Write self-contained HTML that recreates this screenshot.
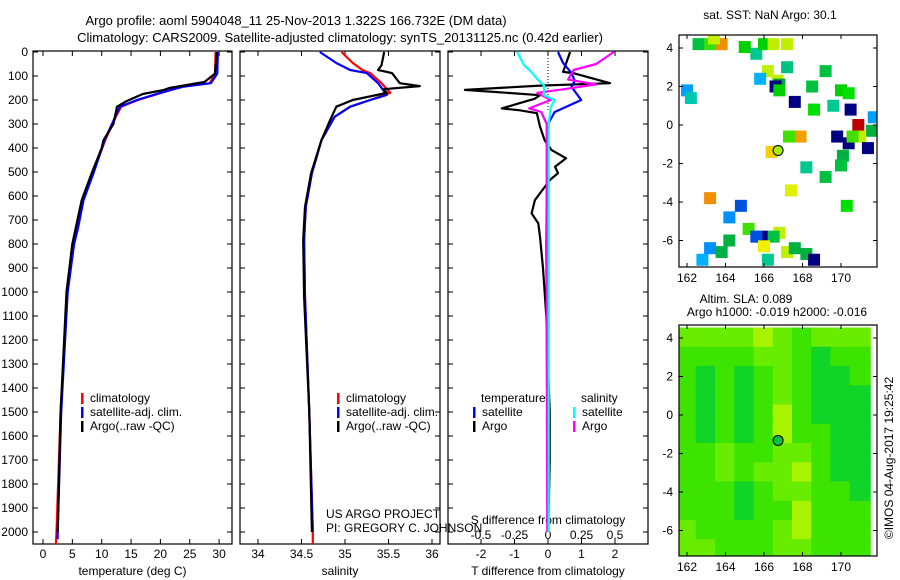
<!DOCTYPE html>
<html><head><meta charset="utf-8">
<style>
body{margin:0;background:#fff;}
svg{display:block;font-family:"Liberation Sans",sans-serif;}
text{font-size:12px;fill:#000;}
</style></head>
<body>
<svg id="fig" width="900" height="580" xmlns="http://www.w3.org/2000/svg">
<text x="296" y="25" text-anchor="middle" style="font-size:13px">Argo profile: aoml 5904048_11 25-Nov-2013 1.322S 166.732E (DM data)</text>
<text x="340" y="42" text-anchor="middle" style="font-size:13px">Climatology: CARS2009. Satellite-adjusted climatology: synTS_20131125.nc (0.42d earlier)</text>
</svg>
<script>
// ---------- data ----------
const depthTicks=[0,100,200,300,400,500,600,700,800,900,1000,1100,1200,1300,1400,1500,1600,1700,1800,1900,2000];
const tempTicks=[0,5,10,15,20,25,30];
const salTicks=[34,34.5,35,35.5,36];
const tdTicks=[-2,-1,0,1,2];
const sdTicks=[-0.5,-0.25,0,0.25,0.5];
const tempClimDepth=[0,90,130,145,170,200,228,270,367,505,617,730,800,1000,1500,2000,2050];
const tempClim=[29.4,29.3,28.4,23.5,20.2,16.2,13.3,12.4,10.6,8.5,6.9,5.9,5.2,4.1,3.0,2.3,2.2];
const tempSatDepth=[0,90,130,145,170,200,228,270,367,505,617,730,800,1000,1500,2000,2030];
const tempSat=[29.8,29.7,28.6,23.8,20.0,16.0,13.1,12.3,10.5,8.6,6.9,6.0,5.3,4.2,3.1,2.5,2.5];
const tempArgoDepth=[0,90,125,150,158,175,205,228,300,367,400,505,617,730,800,1000,1500,1900,2000];
const tempArgo=[29.6,29.3,27.5,21.5,20.6,17,14.2,12.6,12.0,10.3,10.0,8.3,6.6,5.6,5.0,4.0,3.0,2.6,2.5];
const salClimDepth=[0,46,75,88,130,170,200,228,270,367,505,645,783,1020,1500,2000,2050];
const salClim=[34.96,35.09,35.2,35.29,35.42,35.52,35.29,35.06,34.88,34.73,34.62,34.55,34.53,34.54,34.59,34.63,34.63];
const salSatDepth=[0,46,75,88,130,179,200,228,270,367,505,645,783,1020,1500,2000];
const salSat=[34.71,34.9,35.06,35.25,35.38,35.48,35.29,35.06,34.88,34.73,34.62,34.55,34.53,34.54,34.59,34.63];
const salArgoDepth=[0,55,75,88,130,142,155,170,200,228,283,367,505,645,783,1020,1500,2000];
const salArgo=[35.45,35.42,35.38,35.54,35.63,35.86,35.44,35.48,35.09,34.9,34.83,34.73,34.61,34.54,34.52,34.53,34.59,34.62];
const tdArgoDepth=[0,83,88,130,140,158,170,180,195,213,235,243,255,311,367,408,443,478,505,533,617,672,714,770,900,1100,1300,1500,1700,1900,2000];
const tdArgo=[0.66,0.45,0.75,1.85,-0.24,-2.48,-1.23,-0.24,-0.4,-0.84,-1.38,-0.84,-0.33,-0.24,-0.1,0.1,0.54,0.21,0.3,0.06,-0.39,-0.49,-0.29,-0.24,-0.15,-0.05,0.0,0.05,0.05,0.02,0.0];
const tdSatDepth=[0,46,88,120,145,200,250,300,500,800,1500,2000];
const tdSat=[0.3,0.45,0.7,0.8,0.7,0.99,0.2,0.0,-0.03,-0.05,-0.02,0.0];
const sdArgoDepth=[0,50,75,115,135,155,170,200,235,250,300,600,1200,2000];
const sdArgo=[0.49,0.36,0.19,0.15,0.36,0.12,-0.08,0.02,-0.14,-0.05,-0.01,-0.01,-0.01,-0.005];
const sdSatDepth=[0,54,80,113,140,180,200,230,300,600,1200,2000];
const sdSat=[-0.23,-0.18,-0.13,-0.08,-0.03,-0.03,0.05,0.02,0.005,0.005,0.005,0.005];
// SST map squares: lon, lat, colour
const sqLon=[162.6,163.2,163.8,163.4,165.0,165.6,166.0,166.5,167.2,166.2,165.8,166.7,167.2,166.8,166.6,166.8,167.6,168.6,168.5,169.2,170.0,170.4,169.6,170.5,170.9,171.6,171.7,169.8,170.4,171.0,170.6,171.4,170.1,170.0,167.6,167.9,167.3,166.4,168.2,169.2,167.4,163.2,164.8,164.2,170.3,165.2,165.9,165.6,166.8,166.5,164.2,163.2,163.8,162.8,166.0,166.2,167.2,167.6,168.2,168.6,162.0,162.2];
const sqLat=[4.2,4.2,4.2,4.5,4.05,3.7,4.2,4.2,4.2,2.8,2.4,2.3,3.0,2.1,2.0,1.8,1.2,0.8,2.0,2.8,1.8,1.65,1.0,0.8,0.0,-0.3,0.4,-0.6,-0.95,-0.6,-0.6,-1.2,-1.6,-2.1,-0.6,-0.6,-0.6,-1.4,-2.2,-2.7,-3.4,-3.8,-4.2,-4.8,-4.2,-5.4,-5.8,-5.8,-5.6,-5.8,-6.0,-6.4,-6.6,-7.0,-6.3,-7.0,-6.6,-6.4,-6.7,-7.0,1.8,1.4];
const sqColor=['#00c040','#30e010','#f09000','#c0f000','#00d000','#00c890','#00d000','#c0f000','#c0f000','#c0f000','#00b0ff','#c0f000','#00c080','#00a040','#000080','#00d000','#000080','#00e000','#00c040','#00c040','#00d000','#00e000','#00c890','#000080','#c00000','#00b040','#00a0ff','#000080','#000080','#c0f000','#40e000','#000080','#00b040','#00c040','#c0f000','#f0a000','#40e000','#f0d000','#00c890','#00c040','#e0f000','#f09000','#0050e0','#0090ff','#00e000','#40e000','#000080','#0050e0','#c0f000','#00c040','#00b040','#0090ff','#00b040','#00b0ff','#f0f000','#00c890','#c0f000','#00b040','#00b040','#000080','#00a0ff','#00c8b0'];
// SLA map grid (rows lat 4..-7, cols lon 162..171), class 0..3
const slaLats=[4,3,2,1,0,-1,-2,-3,-4,-5,-6,-7];
const slaLons=[162,163,164,165,166,167,168,169,170,171];
const slaGrid=[
[2,2,2,2,3,2,1,2,2,2],
[1,1,1,1,2,2,1,0,1,1],
[1,0,1,0,1,2,1,0,0,1],
[1,0,1,0,1,2,1,0,0,0],
[1,0,1,0,1,3,1,0,0,0],
[1,0,1,0,1,3,1,1,0,0],
[1,1,2,1,1,2,2,1,0,0],
[1,1,2,1,2,2,3,1,0,0],
[1,1,1,0,1,2,2,1,1,0],
[1,1,1,0,1,1,3,1,1,1],
[2,1,1,1,1,2,3,1,1,1],
[2,2,1,1,1,2,2,1,1,1]];
const slaColors=['#10d428','#3ce400','#68ec00','#a8f400'];
const argoLon=166.732, argoLat=-1.322;
const mapXTicks=[162,164,166,168,170];
const mapYTicks=[4,2,0,-2,-4,-6];

// ---------- drawing ----------
const NS='http://www.w3.org/2000/svg';
const svg=document.getElementById('fig');
function el(tag,attrs,parent){const e=document.createElementNS(NS,tag);for(const k in attrs)e.setAttribute(k,attrs[k]);(parent||svg).appendChild(e);return e;}
function txt(s,x,y,anchor,parent){const t=el('text',{x:x,y:y,'text-anchor':anchor||'start'},parent);t.textContent=s;return t;}
const yD=d=>52+0.24*d;
const TOP=51,BOT=544;

function panel(name,x0,x1,xs,xticks,fmt,xlabel,showY){
  const g=el('g',{});
  
  
  const r=el('rect',{x:x0,y:TOP,width:x1-x0,height:BOT-TOP,fill:'none',stroke:'#000','stroke-width':1.2},g);
  
  
  depthTicks.forEach(d=>{
    el('line',{x1:x0,x2:x0+5,y1:yD(d),y2:yD(d),stroke:'#000'},g);
    el('line',{x1:x1-5,x2:x1,y1:yD(d),y2:yD(d),stroke:'#000'},g);
    if(showY){const t=txt(String(d),28,yD(d)+4,'end',g);
      
      }
  });
  xticks.forEach(v=>{
    const x=xs(v);
    el('line',{x1:x,x2:x,y1:BOT,y2:BOT-5,stroke:'#000'},g);
    el('line',{x1:x,x2:x,y1:TOP,y2:TOP+5,stroke:'#000'},g);
    if(fmt){const t=txt(fmt(v),x,558,'middle',g);
      
      }
  });
  if(xlabel){const t=txt(xlabel,(x0+x1)/2,575,'middle',g);
    
    }
  return g;
}
function line(name,depths,vals,xs,color,g,w){
  const pts=depths.map((d,i)=>xs(vals[i]).toFixed(1)+','+yD(d).toFixed(1)).join(' ');
  const p=el('polyline',{points:pts,fill:'none',stroke:color,'stroke-width':w||2.2,'stroke-linejoin':'round'},g);
  
  
}
function legend(g,x,y,items){
  items.forEach((it,i)=>{
    const yy=y+i*14;
    if(it[1]) el('rect',{x:x,y:yy-9,width:2.5,height:11,fill:it[1]},g);
    const t=txt(it[0],x+(it[1]?9:0),yy,'start',g);
    
    
  });
}
// panel 1 temperature
const xT=v=>43+5.87*v;
const g1=panel('temperature-panel',33,232,xT,tempTicks,v=>String(v),'temperature (deg C)',true);
line('temp-climatology',tempClimDepth,tempClim,xT,'#ff0000',g1);
line('temp-satellite-clim',tempSatDepth,tempSat,xT,'#0000ff',g1);
line('temp-argo',tempArgoDepth,tempArgo,xT,'#000000',g1);
legend(g1,81,402,[['climatology','#ff0000'],['satellite-adj. clim.','#0000ff'],['Argo(..raw -QC)','#000000']]);
// panel 2 salinity
const xS=v=>258+87*(v-34);
const g2=panel('salinity-panel',240,440,xS,salTicks,v=>String(v),'salinity',false);
line('sal-climatology',salClimDepth,salClim,xS,'#ff0000',g2);
line('sal-satellite-clim',salSatDepth,salSat,xS,'#0000ff',g2);
line('sal-argo',salArgoDepth,salArgo,xS,'#000000',g2);
legend(g2,337,402,[['climatology','#ff0000'],['satellite-adj. clim.','#0000ff'],['Argo(..raw -QC)','#000000']]);
let t=txt('US ARGO PROJECT',326,518,'start',g2);
t=txt('PI: GREGORY C. JOHNSON',326,532,'start',g2);
// panel 3 differences
const xTD=v=>548+33.5*v;
const xSD=v=>548+134*v;
const g3=panel('difference-panel',448,648,xTD,tdTicks,v=>String(v),'T difference from climatology',false);
for(let y=55;y<110;y+=3) el('rect',{x:547.5,y:y,width:1,height:1,fill:'#000'},g3);
sdTicks.forEach(v=>{const tt=txt(String(v),xSD(v),539,'middle',g3);
  
  });
t=txt('S difference from climatology',548,524,'middle',g3);
line('tdiff-argo',tdArgoDepth,tdArgo,xTD,'#000000',g3);
line('tdiff-satellite',tdSatDepth,tdSat,xTD,'#0000ff',g3);
line('sdiff-argo',sdArgoDepth,sdArgo,xSD,'#ff00ff',g3);
line('sdiff-satellite',sdSatDepth,sdSat,xSD,'#00ffff',g3);
legend(g3,481,402,[['temperature',null]]);
legend(g3,473,416,[['satellite','#0000ff'],['Argo','#000000']]);
legend(g3,581,402,[['salinity',null]]);
legend(g3,573,416,[['satellite','#00ffff'],['Argo','#ff00ff']]);

// maps
function mapFrame(name,top,bot,yLat4,yLat0){
  const g=el('g',{});
  
  
  const mx=v=>687+19.25*(v-162);
  const my=v=>yLat0-(yLat0-yLat4)/4*v;
  return {g,mx,my,top,bot};
}
function mapAxes(m){
  const g=m.g;
  el('rect',{x:679,y:m.top,width:198,height:m.bot-m.top,fill:'none',stroke:'#000','stroke-width':1.2},g);
  mapXTicks.forEach(v=>{const x=m.mx(v);
    el('line',{x1:x,x2:x,y1:m.bot,y2:m.bot-4,stroke:'#000'},g);
    el('line',{x1:x,x2:x,y1:m.top,y2:m.top+4,stroke:'#000'},g);
    const tt=txt(String(v),x,m.bot+15,'middle',g);
    
    });
  mapYTicks.forEach(v=>{const y=m.my(v);
    el('line',{x1:679,x2:683,y1:y,y2:y,stroke:'#000'},g);
    el('line',{x1:873,x2:877,y1:y,y2:y,stroke:'#000'},g);
    const tt=txt(String(v),673,y+4,'end',g);
    
    });
}
// SST map
const m1=mapFrame('sst-map',35,267,48,125);
const clip1=el('clipPath',{id:'c1'});el('rect',{x:679,y:35,width:198,height:232},clip1);
const sg=el('g',{'clip-path':'url(#c1)'},m1.g);
sqLon.forEach((lo,i)=>{
  const s=el('rect',{x:m1.mx(lo)-6,y:m1.my(sqLat[i])-6,width:12,height:12,fill:sqColor[i]},sg);
  
  
});
let c=el('circle',{cx:m1.mx(argoLon),cy:m1.my(argoLat),r:5,fill:'#a8f000',stroke:'#000'},m1.g);

mapAxes(m1);
t=txt('sat. SST: NaN Argo: 30.1',770,19,'middle');
// SLA map
const m2=mapFrame('sla-map',325,556,338,415);
const clip2=el('clipPath',{id:'c2'});el('rect',{x:679,y:325,width:198,height:231},clip2);
const sg2=el('g',{'clip-path':'url(#c2)'},m2.g);
slaLats.forEach((la,r)=>slaLons.forEach((lo,ci)=>{
  const s=el('rect',{x:m2.mx(lo)-10.5,y:m2.my(la)-10.5,width:21,height:21,fill:slaColors[slaGrid[r][ci]]},sg2);
  
  
}));
c=el('circle',{cx:m2.mx(argoLon),cy:m2.my(argoLat),r:5,fill:'#00c040',stroke:'#000'},m2.g);

mapAxes(m2);
t=txt('Altim. SLA: 0.089',746,303,'middle');
t=txt('Argo h1000: -0.019 h2000: -0.016',777,316,'middle');
t=txt('©IMOS 04-Aug-2017 19:25:42',0,0,'middle');
t.setAttribute('transform','translate(893,458) rotate(-90)');

</script>
</body></html>
